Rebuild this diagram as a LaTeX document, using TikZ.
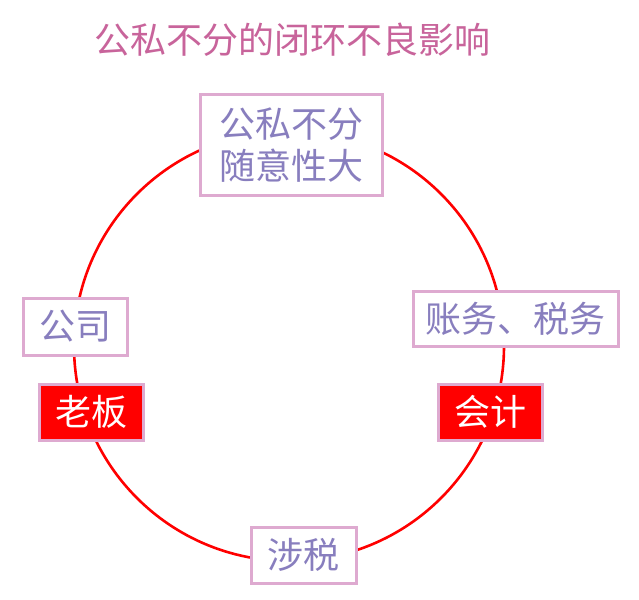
\documentclass[tikz,border=0pt]{standalone}
\usepackage{fontspec}
\setmainfont{Noto Sans CJK SC}
\definecolor{titlepink}{RGB}{200,100,155}
\definecolor{txtpurple}{RGB}{136,126,190}
\definecolor{boxborder}{RGB}{222,170,208}
\definecolor{circred}{RGB}{255,0,0}
\tikzset{
  item/.style={draw=boxborder, line width=3pt, fill=white, text=txtpurple, inner sep=0pt, align=center, font=\fontsize{36}{42}\selectfont},
  hot/.style={item, fill=circred, text=white}
}
\begin{document}
\begin{tikzpicture}[x=1pt,y=-1pt]
\useasboundingbox (0,0) rectangle (639,599);
\node[text=titlepink, font=\fontsize{36}{40}\selectfont] (title) at (292,40) {公私不分的闭环不良影响};
\draw[circred, line width=2.6pt] (289,346) circle (215);
\node[item, minimum width=182pt, minimum height=100pt] (top) at (291,145) {公私不分\\随意性大};
\node[item, minimum width=104pt, minimum height=57pt] (gongsi) at (75,326.5) {公司};
\node[hot, minimum width=104pt, minimum height=56pt] (laoban) at (91,412) {老板};
\node[item, minimum width=205pt, minimum height=55pt] (zhangwu) at (515.5,318.5) {账务、税务};
\node[hot, minimum width=104pt, minimum height=56pt] (kuaiji) at (490,412) {会计};
\node[item, minimum width=105pt, minimum height=56pt] (sheshui) at (303.5,555) {涉税};
\end{tikzpicture}
\end{document}
